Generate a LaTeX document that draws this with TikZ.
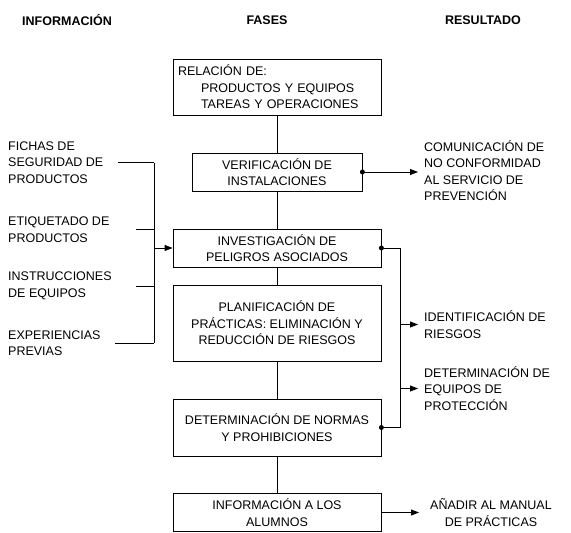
\documentclass[tikz,border=0pt]{standalone}
\usepackage{fontspec}
\setmainfont{Liberation Sans}
\usetikzlibrary{arrows.meta}
\definecolor{fasesink}{HTML}{000000}

\begin{document}
\begin{tikzpicture}[x=1pt, y=-1pt, >={Triangle[length=8pt, width=6pt]},
                    every node/.style={fasesink, inner sep=2pt,
                      font=\fontsize{12.5}{16.5}\selectfont},
                    titulo/.style={font=\fontsize{12.5}{16.5}\selectfont\bfseries},
                    fase/.style={draw, line width=0.8pt, align=center, inner sep=0pt,
                      minimum width=208pt, minimum height=38pt},
                    nota/.style={align=left, anchor=west},
                    enlace/.style={fasesink, line width=0.8pt}]

  \useasboundingbox (0,0) rectangle (571,533);

  %% encabezados de las tres columnas
  \node[titulo] (hinfo) at (67,20)  {INFORMACIÓN};
  \node[titulo] (hfase) at (267,20) {FASES};
  \node[titulo] (hres)  at (483,20) {RESULTADO};

  %% fases, de arriba abajo
  \node[fase, align=left, text width=198pt, minimum height=56pt] (rel) at (277,87)
    {RELACIÓN DE:\\\hspace*{23pt}PRODUCTOS Y EQUIPOS\\\hspace*{23pt}TAREAS Y OPERACIONES};
  \node[fase, minimum width=170pt] (ver) at (277,172) {VERIFICACIÓN DE\\INSTALACIONES};
  \node[fase] (inv) at (277,248)   {INVESTIGACIÓN DE\\PELIGROS ASOCIADOS};
  \node[fase, minimum height=76pt] (pla) at (277,323)
    {PLANIFICACIÓN DE\\PRÁCTICAS: ELIMINACIÓN Y\\REDUCCIÓN DE RIESGOS};
  \node[fase, minimum height=57pt] (nor) at (277,427.5)
    {DETERMINACIÓN DE NORMAS\\Y PROHIBICIONES};
  \node[fase] (alu) at (277,512.5) {INFORMACIÓN A LOS\\ALUMNOS};

  %% fuentes de información
  \node[nota] (fichas) at (6,162.5) {FICHAS DE\\SEGURIDAD DE\\PRODUCTOS};
  \node[nota] (etiq)   at (6,229.5) {ETIQUETADO DE\\PRODUCTOS};
  \node[nota] (instr)  at (6,286)   {INSTRUCCIONES\\DE EQUIPOS};
  \node[nota] (exper)  at (6,343)   {EXPERIENCIAS\\PREVIAS};

  %% resultados
  \node[nota, inner xsep=6pt] (comun) at (418,170.5)
    {COMUNICACIÓN DE\\NO CONFORMIDAD\\AL SERVICIO DE\\PREVENCIÓN};
  \node[nota, inner xsep=6pt] (ident) at (418,324.5) {IDENTIFICACIÓN DE\\RIESGOS};
  \node[nota, inner xsep=6pt] (deter) at (418,388.5)
    {DETERMINACIÓN DE\\EQUIPOS DE\\PROTECCIÓN};
  \node[align=center] (anadir) at (491,512.5) {AÑADIR AL MANUAL\\DE PRÁCTICAS};

  %% ejes verticales de reparto
  \coordinate (bus)  at (154,0);
  \coordinate (rbus) at (400,0);

  %% línea central entre fases
  \draw[enlace] (rel.south -| ver) -- (ver);
  \draw[enlace] (ver) -- (inv);
  \draw[enlace] (inv) -- (pla);
  \draw[enlace] (pla) -- (nor);
  \draw[enlace] (nor) -- (alu);

  %% entradas de información
  \draw[enlace] ([xshift=12pt]fichas.east) -- (fichas.east -| bus);
  \draw[enlace] ([xshift=24pt]etiq.east)   -- (etiq.east -| bus);
  \draw[enlace] ([xshift=22pt]instr.east)  -- (instr.east -| bus);
  \draw[enlace] ([xshift=12pt]exper.east)  -- (exper.east -| bus);
  \draw[enlace] (fichas.east -| bus) -- (exper.east -| bus);
  \draw[enlace, ->] (inv.west -| bus) -- (inv.west);

  %% salidas hacia resultados
  \draw[enlace, ->] (ver.east) -- (ver.east -| comun.west);
  \draw[enlace] (inv.east) -| (rbus |- nor.east) -- (nor.east);
  \draw[enlace, ->] (ident.west -| rbus) -- (ident.west);
  \draw[enlace, ->] (deter.west -| rbus) -- (deter.west);
  \draw[enlace, ->] (alu.east) -- ([xshift=-9pt]anadir.west);

  %% puntos de salida
  \fill[fasesink] (ver.east) circle (2.5pt);
  \fill[fasesink] (inv.east) circle (2.5pt);
  \fill[fasesink] (nor.east) circle (2.5pt);

\end{tikzpicture}
\end{document}
